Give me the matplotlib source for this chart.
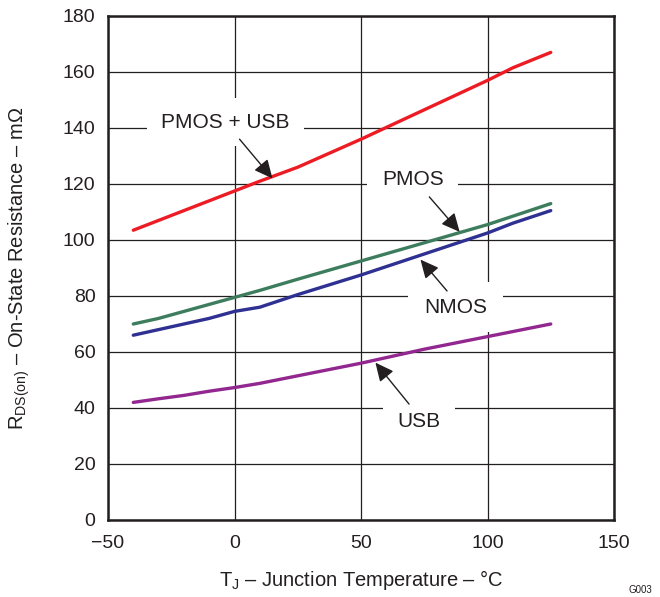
import matplotlib
matplotlib.use("Agg")
import matplotlib.pyplot as plt

plt.rcParams['font.family'] = ['Liberation Sans', 'DejaVu Sans']
plt.rcParams['mathtext.fontset'] = 'custom'
plt.rcParams['mathtext.rm'] = 'Liberation Sans'
plt.rcParams['mathtext.it'] = 'Liberation Sans:italic'

temp = [-40, -30, -20, -10, 0, 10, 25, 50, 75, 100, 110, 125]
pmos_usb = [103.5, 107, 110.5, 114, 117.5, 121, 126, 136, 146.5, 157, 161.5, 167]
pmos = [70, 72, 74.5, 77, 79.5, 82, 86, 92.5, 99, 105.5, 108.5, 113]
nmos = [66, 68, 70, 72, 74.5, 76, 80.5, 87.5, 95, 102.5, 106, 110.5]
usb = [42, 43.3, 44.5, 46, 47.3, 48.8, 51.5, 56, 61, 65.5, 67.3, 70]

x_ticks = [-50, 0, 50, 100, 150]
x_tick_labels = ['\u221250', '0', '50', '100', '150']
y_ticks = [0, 20, 40, 60, 80, 100, 120, 140, 160, 180]

fig = plt.figure(figsize=(6.6, 5.97), dpi=100)
ax = fig.add_axes([108/660, 77/597, 506/660, 504/597])

ax.plot(temp, pmos_usb, color='#ED1C24', lw=2.4, zorder=4, solid_capstyle='round')
ax.plot(temp, pmos, color='#3D7D5E', lw=2.4, zorder=4, solid_capstyle='round')
ax.plot(temp, nmos, color='#2E3192', lw=2.4, zorder=4, solid_capstyle='round')
ax.plot(temp, usb, color='#92278F', lw=2.4, zorder=4, solid_capstyle='round')

ax.set_xlim(-50, 150)
ax.set_ylim(0, 180)
ax.set_xticks(x_ticks)
ax.set_xticklabels(x_tick_labels)
ax.set_yticks(y_ticks)
ax.tick_params(length=0, labelsize=14, colors='#231F20')
ax.tick_params(axis='x', pad=11)
ax.tick_params(axis='y', pad=9)
ax.grid(True, color='#231F20', lw=0.9, zorder=1)
ax.set_axisbelow(True)
for s in ax.spines.values():
    s.set_linewidth(1.8)
    s.set_color('#231F20')
    s.set_zorder(6)

ax.set_xlabel(r'$\mathregular{T_J}$ – Junction Temperature – °C', fontsize=14.5, color='#231F20', labelpad=11)
ax.set_ylabel(r'$\mathregular{R_{DS(on)}}$ – On-State Resistance – mΩ', fontsize=14.5, color='#231F20', labelpad=22)


def label(txt, x, y, boxpad):
    ax.text(x, y, txt, fontsize=15, ha='center', va='center', color='#231F20', zorder=3,
            bbox=dict(fc='white', ec='none', boxstyle='square,pad=%s' % boxpad))

def arrow(start, tip):
    ax.annotate('', xy=tip, xytext=start, zorder=5,
                arrowprops=dict(arrowstyle='-|>,head_length=0.8,head_width=0.38',
                                mutation_scale=14, lw=1, color='#231F20',
                                shrinkA=0, shrinkB=0))

label('PMOS + USB', -3.5, 142.0, 0.7)
arrow((2, 136), (15, 122))
label('PMOS', 70.5, 121.5, 0.7)
arrow((77, 115.4), (89, 102.9))
label('NMOS', 87.4, 76.0, 0.75)
arrow((84, 81.8), (73.5, 93.0))
label('USB', 73, 35.3, 0.7)
arrow((69, 41.4), (55.7, 56.2))

fig.text(640/660, 2/597, 'G003', fontsize=7, ha='center', va='bottom', color='#231F20')

fig.savefig('out.png', dpi=100)
